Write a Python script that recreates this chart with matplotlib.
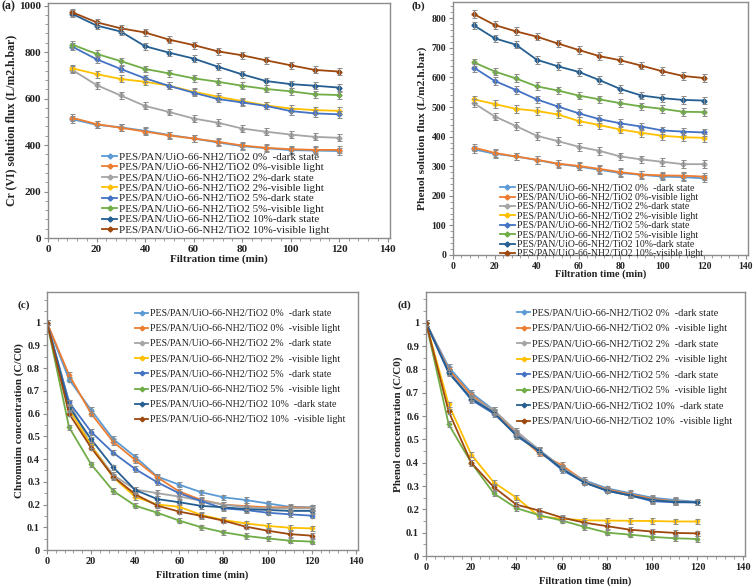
import matplotlib
matplotlib.use("Agg")
import matplotlib.pyplot as plt
from matplotlib.ticker import MultipleLocator, FuncFormatter

plt.rcParams['font.family'] = ['Liberation Serif', 'DejaVu Serif']

W, H = 756, 587
fig = plt.figure(figsize=(W / 100, H / 100), dpi=100)

colors = ['#5B9BD5', '#ED7D31', '#A5A5A5', '#FFC000', '#4472C4', '#70AD47', '#255E91', '#9E480E']

t_flux = [10, 20, 30, 40, 50, 60, 70, 80, 90, 100, 110, 120]
t_conc = [0, 10, 20, 30, 40, 50, 60, 70, 80, 90, 100, 110, 120]

labels_ab = ['PES/PAN/UiO-66-NH2/TiO2 0%  -dark state',
             'PES/PAN/UiO-66-NH2/TiO2 0%-visible light',
             'PES/PAN/UiO-66-NH2/TiO2 2%-dark state',
             'PES/PAN/UiO-66-NH2/TiO2 2%-visible light',
             'PES/PAN/UiO-66-NH2/TiO2 5%-dark state',
             'PES/PAN/UiO-66-NH2/TiO2 5%-visible light',
             'PES/PAN/UiO-66-NH2/TiO2 10%-dark state',
             'PES/PAN/UiO-66-NH2/TiO2 10%-visible light']
labels_cd = ['PES/PAN/UiO-66-NH2/TiO2 0%  -dark state',
             'PES/PAN/UiO-66-NH2/TiO2 0%  -visible light',
             'PES/PAN/UiO-66-NH2/TiO2 2%  -dark state',
             'PES/PAN/UiO-66-NH2/TiO2 2%  -visible light',
             'PES/PAN/UiO-66-NH2/TiO2 5%  -dark state',
             'PES/PAN/UiO-66-NH2/TiO2 5%  -visible light',
             'PES/PAN/UiO-66-NH2/TiO2 10%  -dark state',
             'PES/PAN/UiO-66-NH2/TiO2 10%  -visible light']

# (a) Cr(VI) solution flux
cr_0_dark = [511, 487, 476, 461, 443, 428, 411, 395, 386, 378, 376, 374]
cr_0_vis = [517, 490, 474, 458, 441, 428, 414, 398, 388, 382, 379, 379]
cr_2_dark = [723, 658, 613, 568, 542, 514, 496, 471, 457, 445, 435, 431]
cr_2_vis = [730, 705, 684, 672, 655, 629, 608, 589, 570, 557, 550, 547]
cr_5_dark = [823, 769, 727, 687, 654, 625, 598, 583, 568, 546, 536, 532]
cr_5_vis = [832, 792, 761, 727, 708, 687, 672, 655, 641, 631, 618, 615]
cr_10_dark = [964, 914, 888, 825, 797, 772, 737, 704, 675, 662, 655, 647]
cr_10_vis = [971, 928, 902, 884, 853, 830, 803, 786, 764, 743, 723, 716]
err_a = 15

# (b) Phenol solution flux
ph_0_dark = [357, 342, 333, 321, 308, 299, 288, 277, 271, 265, 263, 259]
ph_0_vis = [363, 345, 333, 322, 309, 301, 291, 280, 272, 269, 268, 265]
ph_2_dark = [513, 468, 436, 403, 385, 366, 352, 333, 323, 315, 307, 307]
ph_2_vis = [526, 510, 494, 487, 475, 453, 439, 424, 413, 403, 398, 396]
ph_5_dark = [633, 588, 558, 526, 502, 479, 459, 445, 434, 421, 417, 414]
ph_5_vis = [651, 620, 597, 570, 556, 539, 526, 513, 502, 494, 484, 483]
ph_10_dark = [776, 732, 711, 660, 638, 619, 591, 561, 539, 530, 524, 522]
ph_10_vis = [814, 777, 756, 738, 715, 693, 672, 658, 640, 621, 605, 598]
err_b = 13

# (c) Chromium concentration C/C0
cc_0_dark = [1, 0.75, 0.616, 0.488, 0.41, 0.323, 0.287, 0.254, 0.232, 0.22, 0.205, 0.19, 0.188]
cc_0_vis = [1, 0.77, 0.60, 0.476, 0.396, 0.32, 0.257, 0.22, 0.2, 0.193, 0.188, 0.188, 0.186]
cc_2_dark = [1, 0.65, 0.46, 0.33, 0.266, 0.25, 0.235, 0.217, 0.2, 0.188, 0.183, 0.183, 0.183]
cc_2_vis = [1, 0.62, 0.46, 0.32, 0.234, 0.2, 0.19, 0.154, 0.132, 0.117, 0.106, 0.098, 0.095]
cc_5_dark = [1, 0.65, 0.52, 0.428, 0.356, 0.298, 0.249, 0.215, 0.183, 0.176, 0.164, 0.157, 0.151]
cc_5_vis = [1, 0.54, 0.377, 0.26, 0.195, 0.164, 0.129, 0.1, 0.078, 0.062, 0.051, 0.041, 0.037]
cc_10_dark = [1, 0.63, 0.487, 0.364, 0.264, 0.224, 0.21, 0.194, 0.188, 0.18, 0.176, 0.172, 0.172]
cc_10_vis = [1, 0.60, 0.45, 0.323, 0.245, 0.195, 0.169, 0.15, 0.129, 0.103, 0.085, 0.07, 0.063]
err_c = 0.012

# (d) Phenol concentration C/C0
pc_0_dark = [1, 0.81, 0.70, 0.625, 0.53, 0.455, 0.38, 0.325, 0.29, 0.27, 0.25, 0.24, 0.232]
pc_0_vis = [1, 0.80, 0.69, 0.62, 0.525, 0.44, 0.39, 0.32, 0.285, 0.265, 0.245, 0.235, 0.23]
pc_2_dark = [1, 0.79, 0.68, 0.625, 0.535, 0.455, 0.38, 0.32, 0.28, 0.26, 0.24, 0.235, 0.23]
pc_2_vis = [1, 0.65, 0.435, 0.315, 0.25, 0.17, 0.16, 0.153, 0.152, 0.151, 0.15, 0.148, 0.148]
pc_5_dark = [1, 0.79, 0.67, 0.61, 0.52, 0.45, 0.37, 0.315, 0.28, 0.26, 0.235, 0.23, 0.23]
pc_5_vis = [1, 0.565, 0.40, 0.268, 0.205, 0.175, 0.152, 0.125, 0.1, 0.092, 0.082, 0.076, 0.073]
pc_10_dark = [1, 0.785, 0.675, 0.615, 0.515, 0.45, 0.375, 0.315, 0.28, 0.26, 0.24, 0.232, 0.23]
pc_10_vis = [1, 0.62, 0.40, 0.295, 0.22, 0.195, 0.165, 0.143, 0.128, 0.113, 0.105, 0.099, 0.097]
err_d = 0.012

series_a = [cr_0_dark, cr_0_vis, cr_2_dark, cr_2_vis, cr_5_dark, cr_5_vis, cr_10_dark, cr_10_vis]
series_b = [ph_0_dark, ph_0_vis, ph_2_dark, ph_2_vis, ph_5_dark, ph_5_vis, ph_10_dark, ph_10_vis]
series_c = [cc_0_dark, cc_0_vis, cc_2_dark, cc_2_vis, cc_5_dark, cc_5_vis, cc_10_dark, cc_10_vis]
series_d = [pc_0_dark, pc_0_vis, pc_2_dark, pc_2_vis, pc_5_dark, pc_5_vis, pc_10_dark, pc_10_vis]

SPINE = '#8c8c8c'
TXT = '#222222'


def ax_at(l, r, b, t):
    return fig.add_axes([l / W, 1 - b / H, (r - l) / W, (b - t) / H])


def style(ax, ylim, ymajor, yminor, ymax_tick, fmt=None, tfs=8):
    ax.set_xlim(0, 141)
    ax.set_ylim(*ylim)
    ax.xaxis.set_major_locator(MultipleLocator(20))
    ax.xaxis.set_minor_locator(MultipleLocator(4))
    ax.set_yticks([v * ymajor for v in range(int(round(ymax_tick / ymajor)) + 1)])
    ax.yaxis.set_minor_locator(MultipleLocator(yminor))
    for s in ax.spines.values():
        s.set_color(SPINE)
        s.set_linewidth(1.0)
    ax.tick_params(which='both', direction='out', color=SPINE, labelcolor=TXT)
    ax.tick_params(which='major', length=3, width=0.8, labelsize=tfs, pad=2)
    ax.tick_params(which='minor', length=2, width=0.6)
    for lab in ax.get_xticklabels() + ax.get_yticklabels():
        lab.set_fontweight('bold')
    if fmt:
        ax.yaxis.set_major_formatter(FuncFormatter(fmt))


def plot_series(ax, x, series, labels, err, ms):
    for ys, c, lab in zip(series, colors, labels):
        ax.plot(x, ys, color=c, marker='D', markersize=ms, linewidth=1.3,
                label=lab, zorder=2)
        ax.errorbar(x, ys, yerr=err, fmt='none', ecolor='#8a8a8a', elinewidth=0.7,
                    capsize=1.8, capthick=0.7, zorder=3)


def add_legend(ax, x_px, y_px, fs, spacing, hl):
    h, l = ax.get_legend_handles_labels()
    leg = ax.legend(h, l, loc='upper left', bbox_to_anchor=(x_px / W, 1 - y_px / H),
                    bbox_transform=fig.transFigure, frameon=False,
                    borderpad=0, borderaxespad=0, labelspacing=spacing,
                    handlelength=hl, handletextpad=0.2,
                    prop={'size': fs})
    for t in leg.get_texts():
        t.set_color(TXT)
    return leg


def num_fmt(v, pos):
    s = ('%.1f' % v)
    if s.endswith('.0'):
        s = s[:-2]
    return s


# Panel (a)
axa = ax_at(48, 390, 238, 2.5)
plot_series(axa, t_flux, series_a, labels_ab, err_a, 2.6)
style(axa, (0, 1013), 200, 40, 1000)
axa.set_xlabel('Filtration time (min)', fontsize=8, fontweight='bold', color=TXT, labelpad=0)
axa.set_ylabel('Cr (VI) solution flux (L/m2.h.bar)', fontsize=8.5, fontweight='bold', color=TXT, labelpad=1)
add_legend(axa, 102, 152, 7.9, 0.07, 1.37)
fig.text(2 / W, 1 - 6 / H, '(a)', fontsize=8.5, fontweight='bold', color=TXT, va='center', ha='left')

# Panel (b)
axb = ax_at(453, 748, 255, 2)
plot_series(axb, t_flux, series_b, labels_ab, err_b, 2.6)
style(axb, (0, 855), 100, 20, 800, tfs=7)
axb.set_xlabel('Filtration time (min)', fontsize=7.5, fontweight='bold', color=TXT, labelpad=-1)
axb.set_ylabel('Phenol solution flux (L/m2.h.bar)', fontsize=8.2, fontweight='bold', color=TXT, labelpad=3)
add_legend(axb, 500, 183.7, 7.0, 0.04, 1.5)
fig.text(412 / W, 1 - 6 / H, '(b)', fontsize=8, fontweight='bold', color=TXT, va='center', ha='left')

# Panel (c)
axc = ax_at(47, 358, 550, 292)
plot_series(axc, t_conc, series_c, labels_cd, err_c, 2.4)
style(axc, (0, 1.135), 0.1, 0.05, 1.0, fmt=num_fmt, tfs=7.5)
axc.set_xlabel('Filtration time (min)', fontsize=7.6, fontweight='bold', color=TXT, labelpad=3)
axc.set_ylabel('Chromuim concentration (C/C0)', fontsize=8.0, fontweight='bold', color=TXT, labelpad=2)
add_legend(axc, 135, 309, 7.2, 0.62, 1.3)
fig.text(17 / W, 1 - 305 / H, '(c)', fontsize=8, fontweight='bold', color=TXT, va='center', ha='left')

# Panel (d)
axd = ax_at(426, 745, 556, 292)
plot_series(axd, t_conc, series_d, labels_cd, err_d, 2.4)
style(axd, (0, 1.132), 0.1, 0.05, 1.0, fmt=num_fmt, tfs=7.5)
axd.set_xlabel('Filtration time (min)', fontsize=7.6, fontweight='bold', color=TXT, labelpad=3)
axd.set_ylabel('Phenol concentration (C/C0)', fontsize=8.0, fontweight='bold', color=TXT, labelpad=2)
add_legend(axd, 517, 308.8, 7.35, 0.62, 1.3)
fig.text(397 / W, 1 - 305 / H, '(d)', fontsize=8, fontweight='bold', color=TXT, va='center', ha='left')

fig.savefig('out.png', dpi=100)
